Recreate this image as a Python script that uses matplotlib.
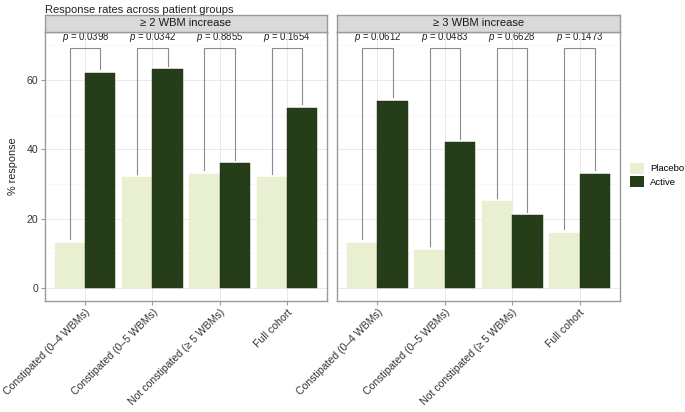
#!/usr/bin/env python

import numpy as np
import matplotlib.pyplot as plt
from matplotlib.patches import Patch

plt.rcParams["font.family"] = ["Liberation Sans", "DejaVu Sans"]
plt.rcParams["mathtext.fontset"] = "custom"
plt.rcParams["mathtext.it"] = "Liberation Sans:italic"
plt.rcParams["mathtext.rm"] = "Liberation Sans"

groups = ["Constipated (0–4 WBMs)", "Constipated (0–5 WBMs)",
          "Not constipated (≥ 5 WBMs)", "Full cohort"]
panels = ["≥ 2 WBM increase", "≥ 3 WBM increase"]

placebo_2 = [13, 32, 33, 32]
active_2 = [62, 63, 36, 52]
p_2 = ["0.0398", "0.0342", "0.8855", "0.1654"]

placebo_3 = [13, 11, 25, 16]
active_3 = [54, 42, 21, 33]
p_3 = ["0.0612", "0.0483", "0.6628", "0.1473"]

PLACEBO_COL = "#E9EFD1"
ACTIVE_COL = "#253D19"
BORDER = "#9A9A9A"
BAR_W = 0.45


def draw_panel(ax, placebo, active, pvals, strip_text, show_y):
    x = np.arange(1, len(groups) + 1)
    ax.bar(x - BAR_W / 2, placebo, width=BAR_W, color=PLACEBO_COL,
           edgecolor=PLACEBO_COL, lw=0.3, zorder=2)
    ax.bar(x + BAR_W / 2, active, width=BAR_W, color=ACTIVE_COL,
           edgecolor="#1c2e13", lw=0.3, zorder=2)

    top = 69.2
    for xi, a, b, p in zip(x, placebo, active, pvals):
        xl, xr = xi - BAR_W / 2, xi + BAR_W / 2
        ax.plot([xl, xl, xr, xr], [a + 1, top, top, b + 1],
                color="#8a8a8a", lw=0.8, zorder=3)
        ax.text(xi, top + 1.0, f"$p$ = {p}", ha="center", va="bottom",
                fontsize=6.9, color="#222222")

    ax.set_xlim(0.4, 4.6)
    ax.set_ylim(-3.6, 73.8)
    ax.set_yticks([0, 20, 40, 60])
    ax.set_yticks([10, 30, 50, 70], minor=True)
    ax.set_xticks(x)
    ax.set_xticklabels(groups, rotation=45, ha="right",
                       rotation_mode="anchor", fontsize=7.6, color="#333333")
    ax.grid(which="major", color="#E6E6E6", lw=0.6, zorder=0)
    ax.grid(which="minor", axis="y", color="#F2F2F2", lw=0.4, zorder=0)
    ax.set_axisbelow(True)
    ax.tick_params(axis="both", which="major", length=3, color=BORDER,
                   labelsize=7.6, labelcolor="#333333", pad=2)
    ax.tick_params(axis="both", which="minor", length=0)
    if not show_y:
        ax.tick_params(axis="y", left=False, labelleft=False)
    for s in ax.spines.values():
        s.set_color(BORDER)
        s.set_linewidth(1.0)

    # facet strip
    bb = ax.get_position()
    strip = ax.figure.add_axes([bb.x0, bb.y1, bb.width, 17 / 412])
    strip.set_facecolor("#D9D9D9")
    strip.set_xticks([])
    strip.set_yticks([])
    for s in strip.spines.values():
        s.set_color(BORDER)
        s.set_linewidth(1.0)
    strip.text(0.5, 0.5, strip_text, ha="center", va="center",
               fontsize=8, color="#1a1a1a", transform=strip.transAxes)


fig = plt.figure(figsize=(6.85, 4.12), dpi=100)
bottom = 1 - 300.5 / 412
height = (300.5 - 32) / 412
ax1 = fig.add_axes([45 / 685, bottom, (327 - 45) / 685, height])
ax2 = fig.add_axes([337 / 685, bottom, (620 - 337) / 685, height])

draw_panel(ax1, placebo_2, active_2, p_2, panels[0], True)
draw_panel(ax2, placebo_3, active_3, p_3, panels[1], False)

ax1.set_ylabel("% response", fontsize=7.8, color="#222222", labelpad=6)
fig.text(45 / 685, 1 - 5 / 412, "Response rates across patient groups",
         ha="left", va="top", fontsize=8, color="#222222")

handles = [Patch(facecolor=PLACEBO_COL, label="Placebo"),
           Patch(facecolor=ACTIVE_COL, label="Active")]
fig.legend(handles=handles, loc="center left",
           bbox_to_anchor=(630 / 685, 1 - 175 / 412), frameon=False,
           fontsize=6.8, handlelength=1.5, handleheight=1.5,
           handletextpad=0.6, labelspacing=0.2, borderpad=0,
           borderaxespad=0)

fig.savefig("out.png", dpi=100)
